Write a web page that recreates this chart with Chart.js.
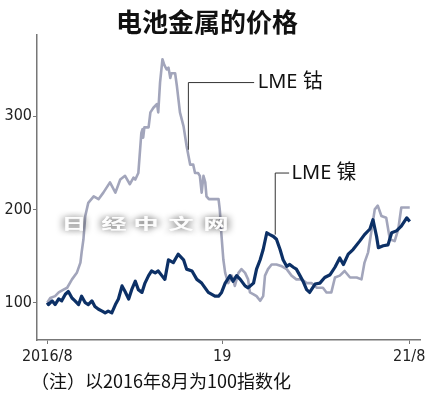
<!DOCTYPE html>
<html>
<head>
<meta charset="utf-8">
<script src="https://cdn.jsdelivr.net/npm/chart.js@4/dist/chart.umd.min.js"></script>
<style>
body { margin: 0; background: #fff; }
</style>
</head>
<body>
<canvas id="c" width="430" height="396"></canvas>
<script>
var title = '电池金属的价格';
var note = '（注）以2016年8月为100指数化';
var watermark = '日经中文网';
var tickMonths = [0, 29, 60];
var tickLabels = ['2016/8', '19', '21/8'];
var yTicks = [100, 200, 300];

// months counted from 2016/8, index 2016/8 = 100
var cobaltMonths = [0, 0.5, 1.3, 1.9, 2.7, 3.3, 4.1, 4.9, 5.5, 5.7, 6.0, 6.3, 6.8, 7.7, 8.5, 9.3, 10.4, 11.3, 12.1, 12.9,
	13.7, 14.3, 14.6, 15.1, 15.6, 15.8, 15.9, 16.1, 16.8, 17.1, 17.6, 18.2, 18.4, 18.7, 19.1, 19.4, 19.8, 20.1, 20.4, 20.6,
	21.2, 21.5, 22.0, 22.6, 23.1, 23.7, 24.2, 24.5, 25.0, 25.3, 25.6, 25.9, 26.2, 26.4, 26.8, 28.4, 28.6, 28.9, 29.2, 29.5,
	30.0, 30.6, 31.1, 31.7, 32.2, 32.8, 33.3, 33.6, 34.2, 34.7, 35.3, 35.8, 36.1, 36.6, 37.2, 38.0, 38.9, 39.7, 40.5, 41.3,
	42.2, 43.0, 43.8, 44.7, 45.7, 46.3, 47.1, 47.7, 48.5, 49.3, 50.2, 51.3, 52.1, 52.6, 53.2, 53.8, 54.3, 54.8, 55.4, 56.2,
	56.8, 57.6, 58.2, 58.7, 60.1];
var cobaltValues = [100, 105, 107, 111, 114, 116, 125, 132, 143, 154, 168, 193, 207, 214, 211, 218, 229, 218, 232, 236,
	227, 234, 232, 239, 282, 286, 277, 288, 288, 304, 309, 313, 304, 336, 361, 355, 350, 352, 341, 346,
	346, 332, 304, 289, 268, 248, 248, 239, 239, 236, 218, 236, 229, 214, 211, 211, 200, 171, 146, 132,
	121, 129, 118, 132, 136, 132, 125, 111, 109, 107, 102, 107, 129, 136, 141, 141, 139, 136, 129, 125,
	125, 121, 121, 116, 116, 111, 111, 127, 129, 134, 127, 127, 125, 143, 154, 179, 200, 204, 193, 191,
	168, 166, 179, 202, 202];

var nickelMonths = [0, 0.2, 0.8, 1.3, 1.9, 2.4, 3.0, 3.5, 4.1, 4.6, 5.2, 5.7, 6.3, 6.8, 7.4, 7.9, 8.5, 9.1, 9.6, 10.1,
	10.7, 11.3, 11.8, 12.4, 12.9, 13.5, 14.0, 14.6, 15.1, 15.7, 16.2, 16.8, 17.3, 17.9, 18.4, 19.0, 19.5, 20.1, 20.9, 21.7,
	22.6, 23.1, 24.0, 24.8, 25.6, 26.7, 27.8, 28.4, 28.9, 29.5, 30.3, 30.8, 31.4, 32.0, 32.8, 33.3, 34.2, 34.7, 35.3, 35.8,
	36.4, 36.9, 37.5, 38.0, 38.6, 39.1, 39.7, 40.2, 40.8, 41.3, 41.9, 42.4, 43.0, 43.5, 44.4, 45.2, 46.0, 46.9, 47.7, 48.5,
	49.1, 49.9, 50.7, 51.8, 52.6, 53.5, 54.0, 54.6, 54.9, 55.7, 56.5, 57.1, 57.9, 58.7, 59.6, 60.1];
var nickelValues = [100, 98, 102, 98, 104, 102, 109, 112, 105, 102, 98, 107, 100, 98, 102, 96, 93, 91, 89, 91,
	89, 98, 104, 118, 112, 104, 114, 123, 114, 111, 121, 129, 134, 132, 134, 129, 125, 146, 143, 152,
	146, 136, 134, 125, 121, 111, 107, 107, 111, 121, 129, 123, 129, 125, 118, 116, 121, 136, 146, 157,
	175, 173, 171, 168, 157, 146, 139, 141, 138, 136, 129, 123, 114, 111, 120, 121, 127, 130, 138, 148,
	141, 152, 157, 166, 173, 179, 189, 171, 159, 161, 162, 175, 177, 182, 191, 187];

function pts(ms, vs) {
	return ms.map(function(m, i) { return {x: m, y: vs[i]}; });
}

var tickFont = {family: '"Liberation Sans Narrow", "DejaVu Sans Condensed", sans-serif', size: 16};

var extras = {
	id: 'extras',
	afterDatasetsDraw: function(chart) {
		var c = chart.ctx, sx = chart.scales.x, sy = chart.scales.y;
		c.save();

		// title
		c.fillStyle = '#111';
		c.font = 'bold 26px "Noto Sans CJK SC"';
		c.textAlign = 'center';
		c.textBaseline = 'middle';
		c.fillText(title, 207, 22);

		// watermark
		c.font = 'bold 18px "Noto Sans CJK SC"';
		c.fillStyle = 'rgba(255,255,255,0.95)';
		c.shadowColor = 'rgba(0,0,0,0.4)';
		c.shadowBlur = 6;
		var wx = [74, 114, 146, 181, 216];
		for (var i = 0; i < watermark.length; i++) {
			c.save();
			c.translate(wx[i], 224);
			c.scale(1.4, 0.8);
			c.shadowOffsetX = -3;
			c.fillText(watermark[i], 0, 0);
			c.shadowOffsetX = 3;
			c.fillText(watermark[i], 0, 0);
			c.restore();
		}
		c.shadowBlur = 0;
		c.shadowOffsetX = 0;
		c.shadowColor = 'transparent';

		// leader lines
		c.strokeStyle = '#333';
		c.lineWidth = 1;
		c.beginPath();
		c.moveTo(sx.getPixelForValue(23.4), sy.getPixelForValue(264));
		c.lineTo(sx.getPixelForValue(23.4), sy.getPixelForValue(336));
		c.lineTo(sx.getPixelForValue(34.3), sy.getPixelForValue(336));
		c.moveTo(sx.getPixelForValue(37.8), sy.getPixelForValue(173));
		c.lineTo(sx.getPixelForValue(37.8), sy.getPixelForValue(239));
		c.lineTo(sx.getPixelForValue(40.1), sy.getPixelForValue(239));
		c.stroke();

		c.fillStyle = '#111';
		c.font = '20px "Noto Sans", "Noto Sans CJK SC"';
		c.textAlign = 'left';
		c.fillText('LME 钴', sx.getPixelForValue(34.9), sy.getPixelForValue(336));
		c.fillText('LME 镍', sx.getPixelForValue(40.5), sy.getPixelForValue(239));

		// note
		c.font = '18px "Noto Sans CJK SC"';
		c.fillText(note, 31, 381);
		c.restore();
	}
};

new Chart(document.getElementById('c'), {
	type: 'line',
	data: {
		datasets: [{
			label: 'LME 镍',
			data: pts(nickelMonths, nickelValues),
			borderColor: '#0c3066',
			borderWidth: 3.2,
			pointRadius: 0,
			borderJoinStyle: 'round'
		}, {
			label: 'LME 钴',
			data: pts(cobaltMonths, cobaltValues),
			borderColor: '#a2a5bb',
			borderWidth: 2.6,
			pointRadius: 0,
			borderJoinStyle: 'round'
		}]
	},
	options: {
		responsive: false,
		animation: false,
		layout: {padding: {top: 35, right: 10, left: 0, bottom: 0}},
		plugins: {legend: {display: false}, tooltip: {enabled: false}},
		scales: {
			x: {
				type: 'linear',
				min: -1.7,
				max: 61.8,
				afterBuildTicks: function(s) { s.ticks = tickMonths.map(function(m) { return {value: m}; }); },
				afterFit: function(s) { s.height = 56; },
				ticks: {
					font: tickFont,
					color: '#222',
					padding: 3,
					maxRotation: 0,
					callback: function(v) { return tickLabels[tickMonths.indexOf(v)]; }
				},
				grid: {drawOnChartArea: false, tickLength: 4, color: '#777'},
				border: {color: '#777', width: 1.5}
			},
			y: {
				min: 60,
				max: 387,
				afterBuildTicks: function(s) { s.ticks = yTicks.map(function(v) { return {value: v}; }); },
				afterFit: function(s) { s.width = 37; },
				ticks: {font: tickFont, color: '#222', padding: 1},
				grid: {drawOnChartArea: false, tickLength: 4, color: '#777'},
				border: {color: '#777', width: 1.5}
			}
		}
	},
	plugins: [extras]
});
</script>
</body>
</html>
